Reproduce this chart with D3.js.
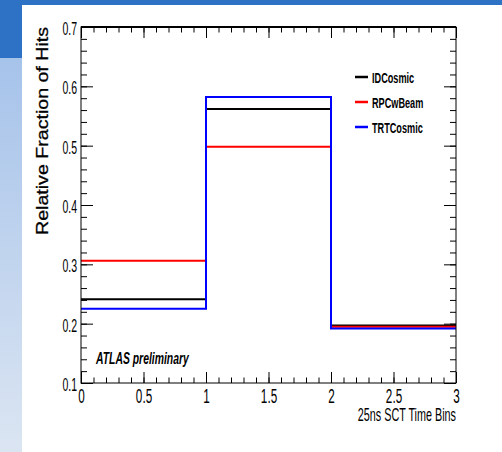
<!DOCTYPE html>
<html>
<head>
<meta charset="utf-8">
<script src="https://cdn.jsdelivr.net/npm/d3@7"></script>
<style>
  html, body { margin: 0; padding: 0; background: #ffffff; }
  svg { display: block; }
  text { font-family: "Liberation Sans", Arial, Helvetica, sans-serif; fill: #000; }
</style>
</head>
<body>
<svg id="chart" width="502" height="452"></svg>
<script>
// ---- data ----
const binEdges = [0, 1, 2, 3];
const seriesNames = ["IDCosmic", "RPCwBeam", "TRTCosmic"];
const seriesColors = ["#000000", "#ff0000", "#0000ff"];
const idCosmic  = [0.241, 0.562, 0.197];
const rpcWBeam  = [0.306, 0.498, 0.195];
const trtCosmic = [0.225, 0.582, 0.192];
const xTickValues = [0, 0.5, 1, 1.5, 2, 2.5, 3];
const xTickLabels = ["0", "0.5", "1", "1.5", "2", "2.5", "3"];
const yTickValues = [0.1, 0.2, 0.3, 0.4, 0.5, 0.6, 0.7];
const yTickLabels = ["0.1", "0.2", "0.3", "0.4", "0.5", "0.6", "0.7"];
const xTitle = "25ns SCT Time Bins";
const yTitle = "Relative Fraction of Hits";
const stamp = "ATLAS preliminary";

const seriesValues = [idCosmic, rpcWBeam, trtCosmic];

const svg = d3.select("#chart");

// ---- slide background ----
const defs = svg.append("defs");
const grad = defs.append("linearGradient").attr("id", "sideGrad")
  .attr("x1", 0).attr("y1", 0).attr("x2", 0).attr("y2", 1);
grad.append("stop").attr("offset", "0%").attr("stop-color", "#a6c3ea");
grad.append("stop").attr("offset", "100%").attr("stop-color", "#dbe5f2");
svg.append("rect").attr("x", 0).attr("y", 0).attr("width", 502).attr("height", 452).attr("fill", "#ffffff");
svg.append("rect").attr("x", 0).attr("y", 58).attr("width", 22).attr("height", 394).attr("fill", "url(#sideGrad)");
svg.append("rect").attr("x", 0).attr("y", 0).attr("width", 22).attr("height", 58).attr("fill", "#2e72c6");
svg.append("rect").attr("x", 0).attr("y", 0).attr("width", 502).attr("height", 5).attr("fill", "#2e72c6");

// ---- scales ----
const pL = 81, pR = 456, pT = 27, pB = 383;
const x = d3.scaleLinear().domain([binEdges[0], binEdges[binEdges.length - 1]]).range([pL, pR]);
const y = d3.scaleLinear().domain([0.1, 0.7]).range([pB, pT]);

const xMinor = x.ticks(30);
const yMinor = y.ticks(30);

function styleAxis(g) {
  g.select(".domain").remove();
  g.selectAll(".tick line").attr("stroke", "#000").attr("stroke-width", 1);
}

// minor ticks (all four sides, inward)
svg.append("g").attr("transform", `translate(0,${pB})`)
  .call(d3.axisBottom(x).tickValues(xMinor).tickSize(-5.5).tickFormat(""))
  .call(styleAxis);
svg.append("g").attr("transform", `translate(0,${pT})`)
  .call(d3.axisTop(x).tickValues(xMinor).tickSize(-5.5).tickFormat(""))
  .call(styleAxis);
svg.append("g").attr("transform", `translate(${pL},0)`)
  .call(d3.axisLeft(y).tickValues(yMinor).tickSize(-6).tickFormat(""))
  .call(styleAxis);
svg.append("g").attr("transform", `translate(${pR},0)`)
  .call(d3.axisRight(y).tickValues(yMinor).tickSize(-6).tickFormat(""))
  .call(styleAxis);

// major ticks
const xAxisG = svg.append("g").attr("transform", `translate(0,${pB})`)
  .call(d3.axisBottom(x).tickValues(xTickValues).tickSize(-11)
    .tickFormat((d, i) => xTickLabels[i]))
  .call(styleAxis);
svg.append("g").attr("transform", `translate(0,${pT})`)
  .call(d3.axisTop(x).tickValues(xTickValues).tickSize(-11).tickFormat(""))
  .call(styleAxis);
const yAxisG = svg.append("g").attr("transform", `translate(${pL},0)`)
  .call(d3.axisLeft(y).tickValues(yTickValues).tickSize(-12)
    .tickFormat((d, i) => yTickLabels[i]))
  .call(styleAxis);
svg.append("g").attr("transform", `translate(${pR},0)`)
  .call(d3.axisRight(y).tickValues(yTickValues).tickSize(-12).tickFormat(""))
  .call(styleAxis);

// tick label styling (condensed Helvetica look)
const sxTick = 0.6;
xAxisG.selectAll(".tick text")
  .attr("font-family", "Liberation Sans, Arial, sans-serif")
  .attr("font-size", 19.5)
  .attr("fill", "#000")
  .attr("y", 20).attr("dy", 0)
  .attr("transform", `scale(${sxTick},1)`);
yAxisG.selectAll(".tick text")
  .attr("font-family", "Liberation Sans, Arial, sans-serif")
  .attr("font-size", 17.5)
  .attr("fill", "#000")
  .attr("x", -4 / sxTick).attr("dy", "0.42em")
  .attr("transform", `scale(${sxTick},1)`);

// ---- histograms ----
const line = d3.line()
  .x(d => x(d[0]))
  .y(d => y(d[1]))
  .curve(d3.curveStepAfter);

svg.append("clipPath").attr("id", "plotClip")
  .append("rect").attr("x", pL).attr("y", pT).attr("width", pR - pL).attr("height", pB - pT);

const histG = svg.append("g").attr("clip-path", "url(#plotClip)");
seriesValues.forEach((vals, si) => {
  const pts = binEdges.map((e, i) => [e, vals[Math.min(i, vals.length - 1)]]);
  histG.append("path")
    .attr("d", line(pts))
    .attr("fill", "none")
    .attr("stroke", seriesColors[si])
    .attr("stroke-width", 2);
});

// ---- frame ----
svg.append("rect").attr("x", pL).attr("y", pT).attr("width", pR - pL).attr("height", pB - pT)
  .attr("fill", "none").attr("stroke", "#000").attr("stroke-width", 1);
svg.append("line").attr("x1", pL).attr("x2", pR).attr("y1", pT).attr("y2", pT)
  .attr("stroke", "#000").attr("stroke-width", 2);

// ---- titles ----
svg.append("text")
  .attr("transform", `translate(${pR},421) scale(0.6,1)`)
  .attr("text-anchor", "end")
  .attr("font-size", 18)
  .text(xTitle);

svg.append("text")
  .attr("transform", `translate(48,${pT}) rotate(-90) scale(1,0.95)`)
  .attr("text-anchor", "end")
  .attr("font-size", 17.5)
  .attr("textLength", 208)
  .attr("lengthAdjust", "spacingAndGlyphs")
  .attr("stroke", "#000").attr("stroke-width", 0.3)
  .text(yTitle);

// ---- legend ----
const legendRows = [77, 102, 127];
const legG = svg.append("g");
seriesNames.forEach((name, i) => {
  legG.append("line")
    .attr("x1", 355).attr("x2", 368)
    .attr("y1", legendRows[i]).attr("y2", legendRows[i])
    .attr("stroke", seriesColors[i]).attr("stroke-width", 2.5);
  legG.append("text")
    .attr("transform", `translate(372,${legendRows[i] + 5.5}) scale(0.61,1)`)
    .attr("font-size", 15)
    .attr("font-weight", "bold")
    .text(name);
});

// ---- stamp ----
svg.append("text")
  .attr("transform", `translate(96,364) scale(0.65,1)`)
  .attr("font-size", 16)
  .attr("font-weight", "bold")
  .attr("font-style", "italic")
  .text(stamp);
</script>
</body>
</html>
